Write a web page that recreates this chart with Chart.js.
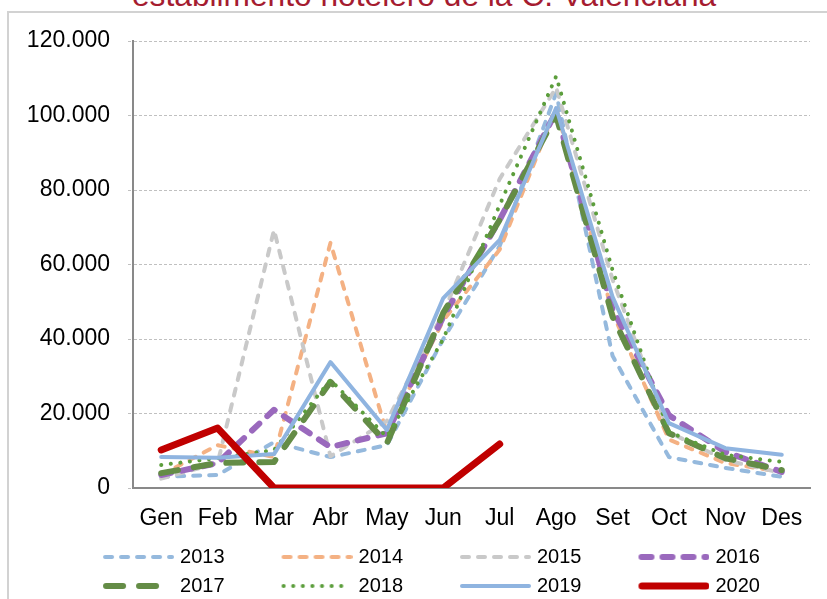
<!DOCTYPE html>
<html>
<head>
<meta charset="utf-8">
<script src="https://cdn.jsdelivr.net/npm/chart.js@4.4.1/dist/chart.umd.min.js"></script>
<style>
  html, body { margin: 0; padding: 0; background: #ffffff; }
  #wrap { position: relative; width: 827px; height: 599px; overflow: hidden; background: #fff; }
  #title { position: absolute; left: 132px; top: -21px; white-space: nowrap;
           font-family: 'Liberation Sans', Arial, sans-serif; font-size: 31.7px; line-height: 32px; color: #a51c30; }
  #frameTop { position: absolute; left: 8px; top: 11px; width: 830px; height: 2px; background: #d2d2d2; }
  #frameLeft { position: absolute; left: 7px; top: 11px; width: 2px; height: 600px; background: #d2d2d2; }
  #c { position: absolute; left: 0; top: 0; }
</style>
</head>
<body>
<div id="wrap">
  <div id="title">establimento hotelero de la C. Valenciana</div>
  <div id="frameTop"></div>
  <div id="frameLeft"></div>
  <canvas id="c" width="827" height="599"></canvas>
</div>
<script>
// ---- Data ----
const months = ['Gen', 'Feb', 'Mar', 'Abr', 'May', 'Jun', 'Jul', 'Ago', 'Set', 'Oct', 'Nov', 'Des'];
const yTickLabels = ['0', '20.000', '40.000', '60.000', '80.000', '100.000', '120.000'];
const seriesNames = ['2013', '2014', '2015', '2016', '2017', '2018', '2019', '2020'];
const v2013 = [3000, 3500, 12300, 8300, 11500, 40000, 65000, 106000, 35500, 8300, 5400, 3000];
const v2014 = [3500, 11500, 8300, 65800, 14700, 45000, 64000, 102000, 47000, 13000, 6700, 4300];
const v2015 = [2500, 6700, 69300, 8500, 18000, 47000, 83000, 107500, 56000, 15000, 7500, 4000];
const v2016 = [3500, 6700, 21000, 11000, 14700, 46000, 72000, 101000, 48000, 19500, 9700, 4300];
const v2017 = [4000, 6700, 7000, 28500, 12000, 47000, 72000, 100000, 46000, 14700, 8000, 4800];
const v2018 = [6200, 8000, 10200, 29000, 13700, 40000, 76000, 110500, 58500, 15000, 8900, 7000];
const v2019 = [8300, 8100, 9100, 33800, 15600, 51000, 66600, 102000, 51300, 17400, 10700, 8900];
const v2020 = [10200, 16100, 0, 0, 0, 0, 11800, null, null, null, null, null];
const seriesValues = [v2013, v2014, v2015, v2016, v2017, v2018, v2019, v2020];

// ---- Styles ----
const styles = [
  { color: '#95b9dd', width: 4, dash: [7, 9] },
  { color: '#f4b183', width: 4, dash: [7, 9] },
  { color: '#c9c9c9', width: 4, dash: [7, 9] },
  { color: '#9a69bd', width: 6, dash: [10, 11] },
  { color: '#648c46', width: 6, dash: [17, 16] },
  { color: '#5c9e3c', width: 4, dash: [0.1, 9.5] },
  { color: '#8fb4e0', width: 4, dash: [] },
  { color: '#c00000', width: 7, dash: [] }
];

const FONT = "'Liberation Sans', Arial, sans-serif";
const BOX_W = 115;
const SAMPLE_LEN = 71;

function makeSample(st) {
  const cv = document.createElement('canvas');
  cv.width = BOX_W + 8;
  cv.height = 14;
  const g = cv.getContext('2d');
  g.strokeStyle = st.color;
  g.lineWidth = st.width;
  g.lineCap = 'round';
  g.setLineDash(st.dash);
  g.beginPath();
  const x1 = cv.width - SAMPLE_LEN + st.width / 2;
  const x2 = cv.width - st.width / 2;
  g.moveTo(x1, 7);
  g.lineTo(x2, 7);
  g.stroke();
  return cv;
}
const samples = styles.map(makeSample);

const datasets = seriesNames.map((name, i) => ({
  label: name,
  data: seriesValues[i],
  borderColor: styles[i].color,
  backgroundColor: styles[i].color,
  borderWidth: styles[i].width,
  borderDash: styles[i].dash,
  borderCapStyle: 'round',
  borderJoinStyle: 'round',
  pointRadius: 0,
  pointHoverRadius: 0,
  tension: 0,
  fill: false,
  spanGaps: false,
  order: seriesNames.length - i
}));

new Chart(document.getElementById('c'), {
  type: 'line',
  data: { labels: months, datasets },
  options: {
    responsive: false,
    animation: false,
    events: [],
    layout: { padding: { top: 41, left: 5, right: 17, bottom: -7 } },
    plugins: {
      title: { display: false },
      tooltip: { enabled: false },
      legend: {
        display: true,
        position: 'bottom',
        align: 'center',
        labels: {
          usePointStyle: true,
          pointStyleWidth: BOX_W,
          boxHeight: 20,
          padding: 9,
          color: '#000',
          font: { family: FONT, size: 20 },
          generateLabels(chart) {
            const items = Chart.defaults.plugins.legend.labels.generateLabels(chart);
            items.sort((a, b) => a.datasetIndex - b.datasetIndex);
            items.forEach(it => { it.pointStyle = samples[it.datasetIndex]; });
            return items;
          }
        }
      }
    },
    scales: {
      x: {
        offset: true,
        grid: { display: false, drawTicks: false },
        border: { display: true, color: '#898989', width: 2 },
        ticks: { color: '#000', font: { family: FONT, size: 23 }, padding: 17, maxRotation: 0, autoSkip: false },
        afterFit(scale) { scale.height = 50; }
      },
      y: {
        min: 0, max: 120000,
        grid: { color: '#c0c0c0', lineWidth: 1, drawTicks: true, tickLength: 5, tickColor: '#c0c0c0', tickBorderDash: [3, 2] },
        border: { display: true, color: '#898989', width: 2, dash: [3, 2] },
        ticks: {
          stepSize: 20000,
          color: '#000',
          font: { family: FONT, size: 23 },
          padding: 18,
          callback: (v) => yTickLabels[Math.round(v / 20000)]
        },
        afterFit(scale) { scale.width = 128; }
      }
    }
  },
  plugins: [{
    id: 'solidAxis',
    beforeDraw(chart) {
      // make y gridlines dashed (border stays solid)
      chart.options.scales.y.grid.borderDash = [3, 2];
    }
  }]
});
</script>
</body>
</html>
